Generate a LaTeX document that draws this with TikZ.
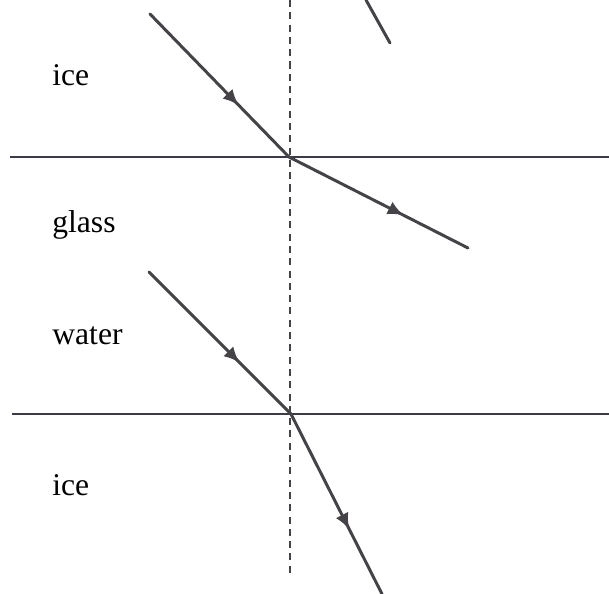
\documentclass[tikz,border=0pt]{standalone}
\usepackage{fontspec}
\setmainfont{Liberation Serif}
\usepackage{xcolor}
\usetikzlibrary{arrows.meta, decorations.markings}
\definecolor{rgray}{HTML}{454348}
\definecolor{bgray}{HTML}{3C3B48}
\tikzset{
  ray/.style={rgray, line width=1.7pt, line cap=round,
    postaction={decorate, decoration={markings,
      mark=at position 0.64 with {\arrow{Latex[length=9pt,width=8pt]}}}}},
  boundary/.style={bgray, line width=1.0pt},
  normal/.style={rgray, line width=0.8pt, dash pattern=on 4pt off 3pt},
  medium/.style={font=\fontsize{18}{20}\selectfont, anchor=base west, inner sep=0pt}
}
\begin{document}
\begin{tikzpicture}[x=0.02cm, y=-0.02cm]
  \useasboundingbox (0,0) rectangle (609,594);
  \fill[white] (0,0) rectangle (609,594);

  %% boundaries and the normal
  \coordinate (hitA) at (289,157);
  \coordinate (hitB) at (291,414);
  \draw[boundary] (10,157) -- (609,157);
  \draw[boundary] (12,414) -- (609,414);
  \draw[normal] (290,0) -- (290,575);

  %% media
  \foreach \y/\txt in {86/ice, 233/glass, 345/water, 496/ice}{
    \node[medium] at (52,\y) {\txt};
  }

  %% ice -> glass
  \coordinate (srcA) at (150,14);
  \coordinate (outA) at (468,248);
  \draw[ray] (srcA) -- (hitA);
  \draw[ray] (hitA) -- (outA);

  %% stray ray at top
  \draw[rgray, line width=1.7pt, line cap=round] (366,0) -- (390,43);

  %% water -> ice
  \coordinate (srcB) at (149,272);
  \coordinate (outB) at (382,594);
  \draw[ray] (srcB) -- (hitB);
  \draw[ray] (hitB) -- (outB);

\end{tikzpicture}
\end{document}
